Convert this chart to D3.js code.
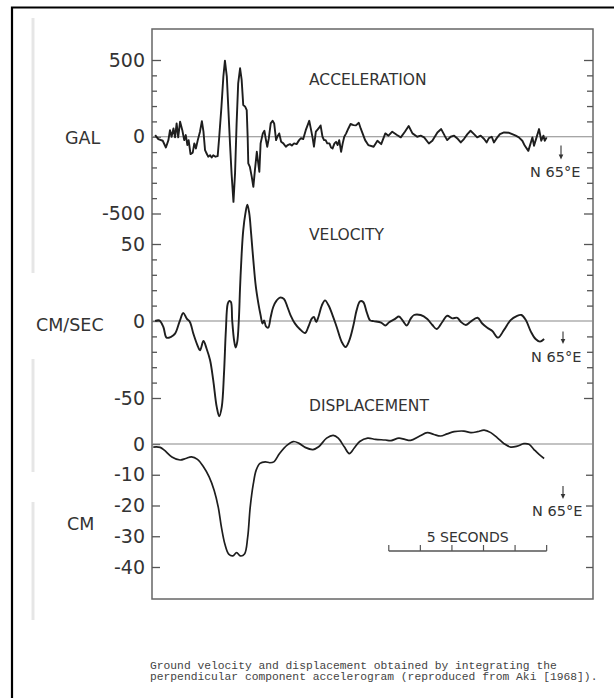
<!DOCTYPE html>
<html>
<head>
<meta charset="utf-8">
<script src="https://cdn.jsdelivr.net/npm/d3@7"></script>
<style>
body { margin: 0; background: #fff; }
</style>
</head>
<body>
<div id="chart"></div>
<script>
// [seconds, value]
var accel = [[0.10,11],[0.20,-15],[0.34,-26],[0.44,-70],[0.52,-22],[0.57,43],[0.62,0],[0.68,54],[0.73,-4],[0.78,87],[0.83,-4],[0.89,98],[0.96,43],[1.02,-22],[1.07,11],[1.12,-54],[1.16,-22],[1.22,-113],[1.29,-104],[1.34,-43],[1.39,-76],[1.45,-22],[1.52,33],[1.58,102],[1.63,33],[1.68,-87],[1.73,-109],[1.78,-130],[1.84,-120],[1.89,-135],[1.94,-120],[2.01,-130],[2.08,-126],[2.13,0],[2.20,196],[2.26,391],[2.31,496],[2.37,391],[2.42,174],[2.47,-43],[2.52,-239],[2.58,-424],[2.63,-239],[2.68,87],[2.73,348],[2.79,446],[2.84,370],[2.89,207],[2.95,196],[3.00,174],[3.03,0],[3.05,-174],[3.10,-196],[3.16,-261],[3.21,-326],[3.26,-217],[3.32,-98],[3.36,-163],[3.40,-228],[3.44,-43],[3.51,22],[3.56,39],[3.61,-22],[3.65,-65],[3.70,-11],[3.76,87],[3.82,104],[3.87,87],[3.93,-22],[3.97,0],[4.03,22],[4.09,-33],[4.16,-43],[4.24,-65],[4.30,-54],[4.37,-48],[4.43,-57],[4.50,-43],[4.58,-48],[4.66,-22],[4.72,-9],[4.79,-15],[4.87,43],[4.93,76],[4.98,104],[5.04,43],[5.09,-11],[5.13,-65],[5.19,33],[5.25,48],[5.30,61],[5.34,74],[5.40,0],[5.45,-22],[5.50,-22],[5.55,-43],[5.62,-43],[5.67,-70],[5.72,-76],[5.78,-43],[5.83,-33],[5.88,-54],[5.93,-22],[5.99,-98],[6.04,-43],[6.09,0],[6.15,22],[6.22,54],[6.29,83],[6.38,76],[6.46,74],[6.55,91],[6.61,54],[6.67,22],[6.75,-22],[6.85,-54],[7.02,-65],[7.14,-26],[7.26,-48],[7.39,22],[7.49,7],[7.61,33],[7.76,11],[7.88,-4],[8.01,33],[8.13,70],[8.25,22],[8.40,0],[8.51,7],[8.62,-4],[8.77,-44],[8.88,-26],[9.04,28],[9.16,50],[9.27,7],[9.35,-22],[9.46,0],[9.57,7],[9.69,-15],[9.78,-37],[9.88,-15],[9.99,17],[10.09,39],[10.20,17],[10.30,-4],[10.41,7],[10.52,-15],[10.60,-37],[10.67,-9],[10.76,0],[10.83,-37],[10.92,-9],[11.02,17],[11.15,28],[11.31,26],[11.41,17],[11.52,7],[11.62,-4],[11.73,-26],[11.81,-59],[11.92,-92],[12.00,-37],[12.05,-4],[12.10,-59],[12.18,-4],[12.26,50],[12.33,-26],[12.40,7],[12.44,-26],[12.50,-4]];

var velocity = [[0.10,0],[0.23,0.4],[0.36,-3.9],[0.46,-10.8],[0.59,-10.4],[0.73,-8.2],[0.87,-0.6],[0.99,5.2],[1.10,1.5],[1.20,-0.6],[1.31,-8.2],[1.44,-15.8],[1.52,-19.0],[1.63,-13.0],[1.73,-18.0],[1.84,-25.5],[1.94,-38.5],[2.05,-55.8],[2.13,-61.9],[2.21,-55.8],[2.28,-34.2],[2.34,-6.1],[2.40,11.3],[2.45,13.0],[2.50,12.3],[2.54,0.4],[2.60,-12.6],[2.65,-17.3],[2.70,-13.6],[2.75,0.4],[2.79,22.1],[2.84,43.7],[2.89,58.9],[2.96,70],[3.02,75.6],[3.08,70],[3.14,56.7],[3.21,39.4],[3.29,22.1],[3.37,11.3],[3.44,3.7],[3.50,-1.7],[3.55,0.4],[3.61,-3.5],[3.68,-4.3],[3.76,2.6],[3.84,9.1],[3.95,13.4],[4.05,15.2],[4.18,14.3],[4.29,9.1],[4.39,3.7],[4.53,-1.7],[4.67,-5.0],[4.85,-7.8],[4.95,-3.9],[5.06,1.5],[5.13,2.6],[5.20,-0.6],[5.27,2.6],[5.38,10.2],[5.48,13.4],[5.59,10.2],[5.72,3.7],[5.85,-3.9],[6.01,-13.6],[6.13,-16.9],[6.25,-12.6],[6.38,-2.8],[6.48,6.9],[6.59,12.8],[6.69,12.3],[6.80,5.8],[6.91,0.4],[7.02,-0.1],[7.26,-1],[7.39,-2.9],[7.51,-0.8],[7.70,1.4],[7.82,2.9],[7.94,0.3],[8.07,-2.9],[8.19,1.4],[8.30,3.9],[8.51,3.9],[8.72,1.3],[8.88,-2.6],[9.02,-5.2],[9.20,-0.5],[9.35,3.4],[9.51,1.7],[9.67,2.1],[9.78,-0.5],[9.94,-2.6],[10.09,-0.5],[10.31,2.1],[10.46,-1.6],[10.62,-4.4],[10.78,-6.5],[10.96,-10.8],[11.15,-5.8],[11.36,0.6],[11.55,3.2],[11.70,3.9],[11.84,0.6],[12.00,-6.9],[12.15,-11.7],[12.29,-13.4],[12.42,-11.7]];

var displacement = [[0.04,-1.0],[0.26,-1.1],[0.39,-2.0],[0.63,-4.2],[0.89,-5.2],[1.07,-4.7],[1.25,-4.2],[1.44,-5.0],[1.63,-7.4],[1.81,-10.7],[1.97,-15.1],[2.10,-20.6],[2.20,-27.1],[2.31,-32.6],[2.43,-35.8],[2.56,-36.4],[2.68,-35.3],[2.80,-36.4],[2.93,-35.8],[3.03,-30.4],[3.11,-20.6],[3.21,-12.9],[3.30,-8.5],[3.42,-6.3],[3.59,-5.8],[3.73,-6.1],[3.86,-5.8],[4.04,-3.1],[4.29,-0.3],[4.48,0.8],[4.66,0.2],[4.85,-1.1],[5.10,-1.8],[5.28,-0.9],[5.53,1.9],[5.74,2.8],[5.90,1.9],[6.09,-0.9],[6.25,-3.1],[6.40,-1.4],[6.58,0.8],[6.83,1.9],[7.08,1.5],[7.39,1.3],[7.57,1.1],[7.82,1.9],[8.01,1.5],[8.19,1.2],[8.48,2.6],[8.72,3.7],[8.93,3.1],[9.14,2.6],[9.35,3.3],[9.57,4.0],[9.88,4.2],[10.10,3.7],[10.31,4.0],[10.52,4.5],[10.73,3.7],[10.94,2.0],[11.15,0.1],[11.36,-1.0],[11.57,-0.7],[11.78,0.1],[11.94,-0.1],[12.10,-1.8],[12.26,-3.4],[12.42,-4.7]];

var accMinor = [400, 300, 200, 100, -100, -200, -300, -400];
var accMajor = [500, 0, -500];
var velMinor = [40, 30, 20, 10, -10, -20, -30, -40];
var velMajor = [50, 0, -50];
var dispMajor = [0, -10, -20, -30, -40];
var scaleBarSeconds = [7.5, 8.5, 9.5, 10.5, 11.5, 12.5];
var captionLines = [
  "Ground velocity and displacement obtained by integrating the",
  "perpendicular component accelerogram (reproduced from Aki [1968])."
];

var svgWidth = 614;
var svgHeight = 698;
var frame = {left: 152, top: 29, right: 593, bottom: 599};

var svg = d3.select("#chart")
  .append("svg")
  .attr("width", svgWidth)
  .attr("height", svgHeight)
  .style("display", "block");

var x = d3.scaleLinear().domain([0, 14]).range([152, 594]);
var yAcc = d3.scaleLinear().domain([-500, 500]).range([213.5, 60]);
var yVel = d3.scaleLinear().domain([-50, 50]).range([398, 244]);
var yDisp = d3.scaleLinear().domain([-40, 0]).range([567, 444]);

// page border and scan streak
svg.append("path")
  .attr("d", "M12,698V7.5H614")
  .attr("fill", "none")
  .attr("stroke", "#000")
  .attr("stroke-width", 2.2);

[[18, 273], [359, 472], [502, 620]].forEach(function(s) {
  svg.append("line")
    .attr("x1", 33).attr("x2", 33)
    .attr("y1", s[0]).attr("y2", s[1])
    .attr("stroke", "#e6e6e6")
    .attr("stroke-width", 3);
});

svg.append("rect")
  .attr("x", frame.left)
  .attr("y", frame.top)
  .attr("width", frame.right - frame.left)
  .attr("height", frame.bottom - frame.top)
  .attr("fill", "none")
  .attr("stroke", "#666")
  .attr("stroke-width", 1.5);

function styleAxis(g) {
  g.select(".domain").remove();
  g.selectAll(".tick line").attr("stroke", "#555").attr("stroke-width", 1.3);
  g.attr("font-family", "DejaVu Sans").attr("font-size", 19);
  g.selectAll("text").attr("fill", "#333");
}

function leftTicks(scale, values, size, labelled) {
  var ax = d3.axisLeft(scale)
    .tickValues(values)
    .tickSize(-size)
    .tickPadding(7)
    .tickFormat(labelled ? function(d) { return String(d); } : "");
  svg.append("g")
    .attr("transform", "translate(" + frame.left + ",0)")
    .call(ax)
    .call(styleAxis);
}

function rightTicks(scale, values, size) {
  var ax = d3.axisRight(scale)
    .tickValues(values)
    .tickSize(-size)
    .tickFormat("");
  svg.append("g")
    .attr("transform", "translate(" + frame.right + ",0)")
    .call(ax)
    .call(styleAxis);
}

leftTicks(yAcc, accMinor, 5, false);
leftTicks(yAcc, accMajor, 9, true);
leftTicks(yVel, velMinor, 5, false);
leftTicks(yVel, velMajor, 9, true);
leftTicks(yDisp, dispMajor, 8, true);

rightTicks(yAcc, accMinor, 6);
rightTicks(yAcc, [500, -500], 9);
rightTicks(yVel, velMinor, 6);
rightTicks(yVel, [50, -50], 9);
rightTicks(yDisp, [-10, -20, -30, -40], 7);

// zero lines
[yAcc, yVel, yDisp].forEach(function(y) {
  svg.append("line")
    .attr("x1", frame.left).attr("x2", frame.right)
    .attr("y1", y(0)).attr("y2", y(0))
    .attr("stroke", "#888")
    .attr("stroke-width", 1.2);
});

// traces
var accLine = d3.line()
  .x(function(d) { return x(d[0]); })
  .y(function(d) { return yAcc(d[1]); });

var velLine = d3.line()
  .curve(d3.curveCatmullRom.alpha(0.5))
  .x(function(d) { return x(d[0]); })
  .y(function(d) { return yVel(d[1]); });

var dispLine = d3.line()
  .curve(d3.curveCatmullRom.alpha(0.5))
  .x(function(d) { return x(d[0]); })
  .y(function(d) { return yDisp(d[1]); });

svg.append("path").datum(accel)
  .attr("d", accLine)
  .attr("fill", "none")
  .attr("stroke", "#1e1e1e")
  .attr("stroke-width", 1.9)
  .attr("stroke-linejoin", "round");

svg.append("path").datum(velocity)
  .attr("d", velLine)
  .attr("fill", "none")
  .attr("stroke", "#1e1e1e")
  .attr("stroke-width", 1.9);

svg.append("path").datum(displacement)
  .attr("d", dispLine)
  .attr("fill", "none")
  .attr("stroke", "#1e1e1e")
  .attr("stroke-width", 1.7);

// panel titles
var titles = [
  {text: "ACCELERATION", y: 85},
  {text: "VELOCITY", y: 240},
  {text: "DISPLACEMENT", y: 411}
];
svg.selectAll(".title")
  .data(titles)
  .enter()
  .append("text")
  .attr("class", "title")
  .attr("x", 309)
  .attr("y", function(d) { return d.y; })
  .attr("font-family", "DejaVu Sans")
  .attr("font-size", 15.5)
  .attr("fill", "#333")
  .text(function(d) { return d.text; });

// unit labels
var units = [
  {text: "GAL", x: 65, y: 143.5},
  {text: "CM/SEC", x: 36, y: 330.5},
  {text: "CM", x: 67, y: 530}
];
svg.selectAll(".unit")
  .data(units)
  .enter()
  .append("text")
  .attr("class", "unit")
  .attr("x", function(d) { return d.x; })
  .attr("y", function(d) { return d.y; })
  .attr("font-family", "DejaVu Sans")
  .attr("font-size", 17.5)
  .attr("fill", "#333")
  .text(function(d) { return d.text; });

// component labels with arrows
var comps = [
  {x: 530, y: 177, ax: 561, a1: 145.5, a2: 159.5},
  {x: 531, y: 361.5, ax: 563, a1: 331.5, a2: 344},
  {x: 532, y: 516, ax: 563, a1: 486, a2: 499}
];
comps.forEach(function(c) {
  svg.append("text")
    .attr("x", c.x)
    .attr("y", c.y)
    .attr("font-family", "DejaVu Sans")
    .attr("font-size", 14.5)
    .attr("fill", "#333")
    .text("N 65°E");
  svg.append("line")
    .attr("x1", c.ax).attr("x2", c.ax)
    .attr("y1", c.a1).attr("y2", c.a2 - 3)
    .attr("stroke", "#333")
    .attr("stroke-width", 1.1);
  svg.append("path")
    .attr("d", "M" + (c.ax - 2.3) + "," + (c.a2 - 5) + "L" + (c.ax + 2.3) + "," + (c.a2 - 5) + "L" + c.ax + "," + c.a2 + "Z")
    .attr("fill", "#333");
});

// 5 second scale bar
var barY = 551;
svg.append("line")
  .attr("x1", x(scaleBarSeconds[0]))
  .attr("x2", x(scaleBarSeconds[scaleBarSeconds.length - 1]))
  .attr("y1", barY).attr("y2", barY)
  .attr("stroke", "#555")
  .attr("stroke-width", 1.3);
svg.selectAll(".barTick")
  .data(scaleBarSeconds)
  .enter()
  .append("line")
  .attr("class", "barTick")
  .attr("x1", function(d) { return x(d); })
  .attr("x2", function(d) { return x(d); })
  .attr("y1", barY)
  .attr("y2", barY - 6)
  .attr("stroke", "#555")
  .attr("stroke-width", 1.2);
svg.append("text")
  .attr("x", (x(scaleBarSeconds[0]) + x(scaleBarSeconds[scaleBarSeconds.length - 1])) / 2)
  .attr("y", 541.5)
  .attr("text-anchor", "middle")
  .attr("font-family", "DejaVu Sans")
  .attr("font-size", 14)
  .attr("fill", "#333")
  .text("5 SECONDS");

// caption
svg.selectAll(".caption")
  .data(captionLines)
  .enter()
  .append("text")
  .attr("class", "caption")
  .attr("x", 150)
  .attr("y", function(d, i) { return 669 + i * 10.8; })
  .attr("font-family", "Liberation Mono")
  .attr("font-size", 11.3)
  .attr("fill", "#444")
  .text(function(d) { return d; });
</script>
</body>
</html>
